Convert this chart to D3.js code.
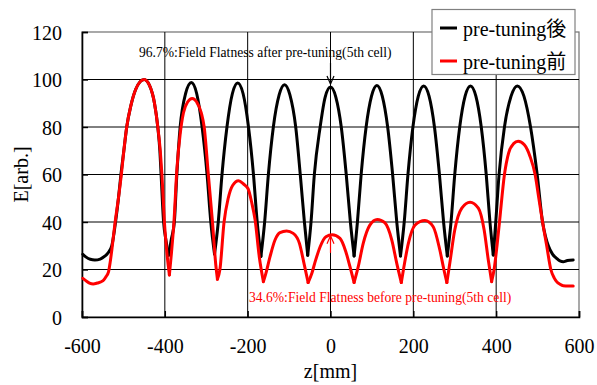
<!DOCTYPE html>
<html>
<head>
<meta charset="utf-8">
<script src="https://cdn.jsdelivr.net/npm/d3@7"></script>
<style>
  body { margin: 0; background: #fff; }
  text { font-family: "Liberation Serif", "Times New Roman", "Noto Sans CJK JP", serif; }
</style>
</head>
<body>
<svg id="chart" width="597" height="385"></svg>
<script>
// field profile, [z (mm), E (arb.)]
const afterTuning = [
  [-598,26.4],[-590,25.2],[-580,24.3],[-569,24.0],[-556,24.4],[-545,25.6],[-537,27.0],[-528,30.0],
  [-519,40],[-512,50],[-506,60],[-499,70],[-492,80],[-482,89],[-470,96],[-460,99],[-450,100],
  [-437,97.5],[-425,90],[-417,80],[-412,70],[-409,60],[-403,40],[-397,32],[-391,26],
  [-384,33],[-377,40],[-371,60],[-363,80],[-350,94],[-336,98.7],[-323,94],[-310,80],[-298,60],[-289,40],[-280,26.5],
  [-271,40],[-262,60],[-250,80],[-237,94],[-224,98.5],[-211,94],[-198,80],[-186,60],[-177,40],[-168,25.5],
  [-159,40],[-150,60],[-138,80],[-124,93.5],[-111,97.8],[-98,93.5],[-84,80],[-73,60],[-63,40],[-55,26],
  [-47,40],[-39,60],[-25,80],[-13,92.5],[0,96.8],[13,92.5],[26,80],[38,60],[48,40],[57,25.7],
  [65,40],[74,60],[86,80],[99,93],[112,97.5],[125,93],[138,80],[150,60],[160,40],[169,25.7],
  [178,40],[187,60],[199,80],[212,93],[225,97.3],[238,93],[251,80],[263,60],[273,40],[282,25.7],
  [291,40],[300,60],[312,80],[325,93],[338,97.3],[351,93],[364,80],[376,60],[385,40],[393,26.1],
  [399,40],[407,60],[420,80],[436,93],[451,97.3],[467,93],[483,80],[499,60],[512,40],[519,34],
  [526,30],[536,26.5],[546,24.7],[554,23.6],[562,23.3],[572,23.8],[586,24.0]
];

const beforeTuning = [
  [-598,16.3],[-590,15.2],[-582,14.3],[-573,13.9],[-563,14.3],[-549,15.3],[-542,17],[-536,19],[-532,23],[-528,28.2],
  [-520,40],[-512,50],[-505,60],[-499,70],[-492,80],[-482,89],[-470,96],[-460,99],[-450,100],
  [-437,97.5],[-425,90],[-417,80],[-411,70],[-407,60],[-401,40],[-395,27],[-389,17.7],
  [-384,27],[-378,40],[-371,62],[-363,77],[-355,86],[-345,90.5],[-334,92],[-323,90.5],[-312,86],[-305,80],
  [-295,60],[-285,40],[-277,22],[-273,15.9],
  [-267,20],[-257,40],[-247,50],[-236,55.5],[-222,57.4],[-210,56],[-199,54],[-190,48],[-182,40.8],[-172,25.4],[-162,14.9],
  [-156,18.4],[-146,25.4],[-134,32.4],[-122,35.5],[-106,36.2],[-90,35.2],[-75,31],[-64,22.6],[-54,14.5],
  [-45,18.4],[-37,23.3],[-25,29.6],[-11,33.8],[4,34.6],[23,33.1],[37,27.5],[47,21.2],[57,14.5],
  [67,21.2],[79,31],[95,38.7],[113,41.1],[131,39.7],[148,32.4],[160,22.6],[171,14.5],
  [176,19.8],[188,31],[204,38.7],[228,40.6],[248,38],[264,28.2],[274,19.8],[281,14.5],
  [288,22.6],[300,36.6],[317,45.8],[337,48.3],[357,45.8],[371,36.6],[381,24],[389,14.9],
  [395,20],[402,30],[408,40],[420,60],[430,69],[442,73],[453,74],[468,72.5],[482,67.5],[494,60],
  [503,50],[512,40],[522,30],[532,20],[540,16.5],[546,14.9],[554,13.8],[562,13.2],[574,13.1],[586,13.1]
];

const xTicks = [-600, -400, -200, 0, 200, 400, 600];
const yTicks = [0, 20, 40, 60, 80, 100, 120];
const seriesNames = ["pre-tuning後", "pre-tuning前"];
const seriesColors = ["#000000", "#ff0000"];
const noteAfter = "96.7%:Field Flatness after pre-tuning(5th cell)";
const noteBefore = "34.6%:Field Flatness before pre-tuning(5th cell)";
const flatAfter = 96.8, flatBefore = 34.6;

const svg = d3.select("#chart");
const pLeft = 82, pTop = 32, pRight = 579, pBottom = 317;
const serif = "'Liberation Serif', 'Times New Roman', 'Noto Sans CJK JP', serif";

const x = d3.scaleLinear().domain([-600, 600]).range([pLeft, pRight]);
const y = d3.scaleLinear().domain([0, 120]).range([pBottom, pTop]);

// plot frame
svg.append("rect")
  .attr("x", pLeft).attr("y", pTop)
  .attr("width", pRight - pLeft).attr("height", pBottom - pTop)
  .attr("fill", "#fff").attr("stroke", "#707070").attr("stroke-width", 1.2);

// grid
svg.append("g").selectAll("line")
  .data(yTicks.filter(d => d > 0 && d < 120))
  .enter().append("line")
  .attr("x1", pLeft).attr("x2", pRight)
  .attr("y1", d => y(d)).attr("y2", d => y(d))
  .attr("stroke", "#000").attr("stroke-width", 1);

svg.append("g").selectAll("line")
  .data(xTicks.filter(d => d > -600 && d < 600))
  .enter().append("line")
  .attr("x1", d => x(d)).attr("x2", d => x(d))
  .attr("y1", pTop).attr("y2", pBottom)
  .attr("stroke", "#000").attr("stroke-width", 1);

// axes (plain hyphen for negatives, like the original)
const yAxis = svg.append("g")
  .attr("transform", "translate(" + pLeft + ",0)")
  .call(d3.axisLeft(y).tickValues(yTicks).tickSize(-6).tickPadding(20).tickFormat(d => String(d)));
const xAxis = svg.append("g")
  .attr("transform", "translate(0," + pBottom + ")")
  .call(d3.axisBottom(x).tickValues(xTicks).tickSize(-6).tickPadding(22).tickFormat(d => String(d)));

[yAxis, xAxis].forEach(g => {
  g.attr("font-family", serif);
  g.select(".domain").attr("stroke", "#000").attr("stroke-width", 1.6);
  g.selectAll(".tick line").attr("stroke", "#000").attr("stroke-width", 1.4);
  g.selectAll("text").attr("font-size", 20).attr("fill", "#000");
});
yAxis.selectAll("text").attr("dy", "0.35em");

svg.append("text")
  .attr("x", x(0)).attr("y", 378)
  .attr("text-anchor", "middle").attr("font-size", 20)
  .text("z[mm]");

svg.append("text")
  .attr("transform", "translate(28," + ((pTop + pBottom) / 2) + ") rotate(-90)")
  .attr("text-anchor", "middle").attr("font-size", 20)
  .text("E[arb.]");

// curves: split at the sharp dips so the cusps stay pointed
function pieces(pts) {
  const out = [];
  let cur = [pts[0]];
  for (let i = 1; i < pts.length; i++) {
    cur.push(pts[i]);
    if (i < pts.length - 1 &&
        pts[i - 1][1] - pts[i][1] > 3 && pts[i + 1][1] - pts[i][1] > 3) {
      out.push(cur);
      cur = [pts[i]];
    }
  }
  out.push(cur);
  return out;
}

const line = d3.line()
  .x(d => x(d[0]))
  .y(d => y(d[1]))
  .curve(d3.curveMonotoneX);

[afterTuning, beforeTuning].forEach((data, k) => {
  svg.append("g").selectAll("path")
    .data(pieces(data))
    .enter().append("path")
    .attr("d", line)
    .attr("fill", "none")
    .attr("stroke", seriesColors[k])
    .attr("stroke-width", 3)
    .attr("stroke-linejoin", "round")
    .attr("stroke-linecap", "round");
});

// annotations
svg.append("text")
  .attr("x", 139).attr("y", 57)
  .attr("font-size", 13.6).attr("fill", "#000")
  .text(noteAfter);

const ax = x(0);
const tipA = y(flatAfter) - 3;
svg.append("line")
  .attr("x1", ax).attr("x2", ax).attr("y1", 63).attr("y2", tipA)
  .attr("stroke", "#000").attr("stroke-width", 1.2);
svg.append("path")
  .attr("d", "M" + (ax - 3.5) + "," + (tipA - 8) + "L" + ax + "," + tipA + "L" + (ax + 3.5) + "," + (tipA - 8))
  .attr("fill", "none").attr("stroke", "#000").attr("stroke-width", 1.2);

svg.append("text")
  .attr("x", 249).attr("y", 302)
  .attr("font-size", 13.6).attr("fill", "#ff0000")
  .text(noteBefore);

const tipB = y(flatBefore) + 1;
svg.append("line")
  .attr("x1", ax).attr("x2", ax).attr("y1", y(27)).attr("y2", tipB)
  .attr("stroke", "#ff0000").attr("stroke-width", 1.2);
svg.append("path")
  .attr("d", "M" + (ax - 3.5) + "," + (tipB + 8) + "L" + ax + "," + tipB + "L" + (ax + 3.5) + "," + (tipB + 8))
  .attr("fill", "none").attr("stroke", "#ff0000").attr("stroke-width", 1.2);

// legend
const legend = svg.append("g");
legend.append("rect")
  .attr("x", 432).attr("y", 9.5).attr("width", 143).attr("height", 65)
  .attr("fill", "#fff").attr("stroke", "#808080").attr("stroke-width", 1.2);
seriesNames.forEach((name, i) => {
  const ly = 28 + i * 33;
  legend.append("line")
    .attr("x1", 440).attr("x2", 457).attr("y1", ly).attr("y2", ly)
    .attr("stroke", seriesColors[i]).attr("stroke-width", 3);
  legend.append("text")
    .attr("x", 463).attr("y", ly + 8)
    .attr("font-size", 20).attr("fill", "#000")
    .text(name);
});
</script>
</body>
</html>
